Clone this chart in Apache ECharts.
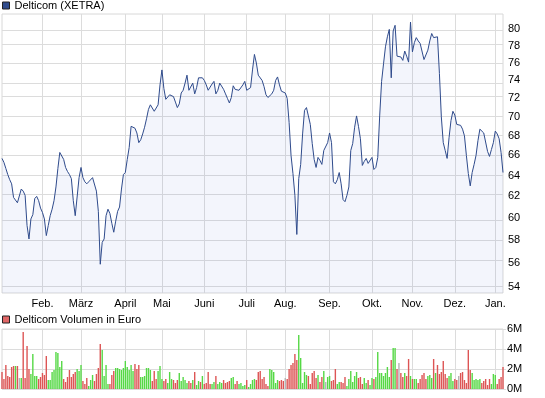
<!DOCTYPE html>
<html>
<head>
<meta charset="utf-8">
<script src="https://cdn.jsdelivr.net/npm/echarts@6/dist/echarts.min.js"></script>
<style>
html, body { margin: 0; padding: 0; background: #fff; }
#container1 { width: 545px; height: 398px; }
</style>
</head>
<body>
<div id="container1"></div>
<script>
// month labels and the trading day (index) where each month starts
var monthNames = ['Feb.', 'März', 'April', 'Mai', 'Juni', 'Juli', 'Aug.', 'Sep.', 'Okt.', 'Nov.', 'Dez.', 'Jan.'];
var monthStartDay = [21, 41, 64, 83, 105, 127, 147, 170, 192, 213, 235, 256];

// daily close, XETRA (EUR)
var closeXetra = [
    65.7, 65.3, 64.7, 64.1, 63.6, 63.2, 61.9, 62.0, 61.4, 61.4,
    62.7, 62.5, 62.1, 59.3, 58.1, 59.9, 60.3, 61.8, 62.0, 61.6,
    60.9, 60.5, 59.9, 58.4, 59.3, 60.2, 60.8, 61.6, 62.9, 64.7,
    66.3, 66.5, 65.6, 64.8, 64.4, 64.1, 63.7, 61.6, 60.2, 60.3,
    63.8, 64.8, 63.8, 63.4, 63.2, 63.4, 63.5, 63.8, 63.7, 62.5,
    60.6, 55.9, 57.8, 58.1, 60.2, 60.8, 60.4, 59.5, 58.7, 59.7,
    60.6, 61.0, 62.7, 64.1, 64.3, 65.6, 66.8, 69.0, 69.1, 68.8,
    68.3, 67.3, 67.6, 68.2, 68.9, 69.8, 70.8, 71.3, 71.1, 70.6,
    70.4, 71.3, 73.5, 75.2, 73.1, 71.9, 72.0, 72.4, 72.6, 72.2,
    71.6, 71.0, 71.4, 72.6, 72.9, 73.7, 74.6, 72.9, 72.8, 73.7,
    72.5, 73.2, 74.3, 74.1, 74.3, 74.0, 73.5, 72.9, 72.8, 73.6,
    73.9, 72.5, 72.9, 73.7, 73.9, 73.0, 72.5, 72.0, 71.5, 72.1,
    73.4, 73.0, 72.8, 72.9, 73.1, 73.5, 73.9, 72.9, 73.0, 73.2,
    75.2, 77.0, 76.0, 74.6, 74.4, 74.0, 73.3, 72.4, 72.1, 72.2,
    72.5, 72.9, 74.0, 74.4, 73.5, 72.8, 72.6, 72.6, 72.0, 69.4,
    66.0, 64.2, 62.1, 58.5, 63.7, 65.1, 68.2, 70.7, 71.0, 70.1,
    69.2, 67.2, 65.6, 64.8, 65.8, 65.5, 65.1, 66.5, 66.5, 67.3,
    68.3, 67.3, 63.4, 63.2, 63.6, 64.3, 63.2, 61.7, 61.5, 62.1,
    62.9, 66.5, 67.2, 68.9, 70.1, 69.0, 67.7, 65.0, 65.4, 65.7,
    65.2, 65.3, 65.8, 64.6, 64.8, 65.8, 70.1, 73.9, 75.9, 77.9,
    79.1, 80.0, 74.3, 79.8, 80.5, 76.8, 76.8, 76.7, 76.3, 77.4,
    76.8, 76.1, 80.9, 77.3, 78.4, 79.0, 78.6, 78.3, 78.2, 76.4,
    76.2, 77.5, 78.6, 79.5, 79.0, 79.2, 79.1, 74.8, 70.0, 67.3,
    66.5, 65.7, 67.8, 69.6, 70.6, 70.2, 69.2, 69.2, 69.1, 68.7,
    68.0, 66.0, 64.2, 63.0, 64.3, 65.1, 66.0, 67.5, 68.7, 68.5,
    68.3, 68.1, 66.4, 65.9, 66.6, 67.3, 68.5, 68.2, 67.7, 66.3, 64.3
];

// daily turnover in million euro
var volumeMio = [
    1.7, 1.0, 2.4, 1.3, 1.2, 2.2, 2.3, 2.3, 2.3, 1.1,
    1.1, 5.7, 1.1, 4.3, 2.0, 1.5, 3.5, 1.3, 1.3, 1.0,
    1.2, 1.6, 1.4, 3.3, 0.9, 0.9, 1.7, 1.9, 3.7, 3.6,
    2.2, 2.8, 1.0, 0.7, 1.2, 1.9, 1.2, 1.5, 1.7, 2.0,
    1.8, 2.4, 0.8, 0.5, 1.1, 0.3, 0.9, 1.4, 0.8, 1.5,
    2.1, 4.5, 3.9, 1.3, 2.4, 0.5, 0.5, 1.4, 1.8, 2.1,
    2.1, 2.0, 1.9, 2.1, 2.8, 2.2, 1.9, 2.4, 1.8, 2.5,
    2.0, 2.4, 1.2, 1.2, 1.3, 2.1, 2.1, 1.9, 0.8, 1.8,
    1.0, 1.8, 2.3, 1.0, 0.8, 1.0, 0.6, 1.7, 1.0, 0.9,
    0.6, 0.9, 1.6, 0.8, 1.2, 0.9, 0.6, 0.8, 0.6, 0.9,
    1.7, 0.4, 0.8, 0.7, 1.3, 0.5, 0.6, 1.7, 0.5, 0.5,
    0.7, 1.3, 0.5, 0.7, 0.6, 0.9, 0.6, 0.7, 0.8, 1.1,
    1.2, 0.5, 0.8, 0.5, 0.6, 0.3, 0.4, 0.9, 0.2, 0.5,
    0.9, 1.0, 0.9, 1.7, 1.8, 1.0, 1.2, 0.5, 0.3, 2.0,
    1.9, 1.7, 0.6, 0.9, 0.8, 0.9, 0.8, 1.1, 1.0, 2.0,
    2.4, 2.6, 3.5, 2.9, 5.4, 3.1, 0.6, 1.7, 1.4, 1.3,
    0.5, 1.6, 1.8, 1.1, 1.4, 0.7, 1.2, 1.8, 0.7, 1.2,
    1.3, 0.8, 0.9, 2.0, 0.5, 0.7, 0.7, 0.6, 1.2, 0.3,
    1.0, 1.8, 0.7, 1.3, 1.7, 1.1, 1.2, 0.5, 1.1, 0.6,
    0.9, 0.4, 1.1, 1.0, 1.2, 3.7, 1.6, 1.6, 1.3, 1.6,
    2.2, 1.2, 2.9, 4.1, 4.1, 2.0, 2.6, 1.6, 1.2, 1.6,
    1.3, 3.0, 1.3, 1.0, 1.0, 1.0, 0.6, 1.0, 1.4, 1.6,
    1.0, 1.3, 1.4, 1.1, 3.0, 1.6, 2.4, 1.5, 1.7, 2.8,
    1.5, 1.1, 1.3, 1.6, 0.8, 1.0, 0.9, 1.3, 1.6, 1.7,
    0.9, 0.6, 3.9, 1.9, 1.6, 0.9, 1.0, 0.9, 1.0, 0.6,
    0.8, 1.0, 0.4, 1.0, 0.5, 1.5, 1.4, 0.5, 1.0, 1.2, 2.2
];

var priceTicks = [54, 56, 58, 60, 62, 64, 66, 68, 70, 72, 74, 76, 78, 80];
var priceMin = 53.5, priceMax = 81.9;

var fontName = 'Liberation Sans';
var gridColor = '#dcdcdc';
var upColor = '#55d845', downColor = '#dd5555', flatColor = '#b4b4b4';

var days = closeXetra.map(function (v, i) { return String(i); });

// log scale: plot ln(price) and label ticks back in euro
var logClose = closeXetra.map(function (v) { return Math.log(v); });
var logTicks = priceTicks.map(function (v) { return Math.log(v); });

var volBars = volumeMio.map(function (v, i) {
    var c = downColor;
    if (i > 0) {
        if (closeXetra[i] > closeXetra[i - 1]) c = upColor;
        else if (closeXetra[i] === closeXetra[i - 1]) c = flatColor;
    }
    return { value: v, itemStyle: { color: c } };
});

function isMonthStart(index) {
    return monthStartDay.indexOf(index) >= 0;
}

var dom = document.getElementById('container1');
var myChart = echarts.init(dom, null, { renderer: 'canvas' });

var option = {
    animation: false,
    backgroundColor: '#fff',
    textStyle: { fontFamily: fontName },
    legend: [
        {
            left: 2, top: 0, padding: 0,
            icon: 'rect', itemWidth: 7, itemHeight: 7,
            selectedMode: false,
            textStyle: { fontSize: 11, color: '#000', fontFamily: fontName },
            data: [{ name: 'Delticom (XETRA)', itemStyle: { color: '#2f4b8c', borderColor: '#222', borderWidth: 1 } }]
        },
        {
            left: 2, top: 314, padding: 0,
            icon: 'rect', itemWidth: 7, itemHeight: 7,
            selectedMode: false,
            textStyle: { fontSize: 11, color: '#000', fontFamily: fontName },
            data: [{ name: 'Delticom Volumen in Euro', itemStyle: { color: '#e06666', borderColor: '#222', borderWidth: 1 } }]
        }
    ],
    grid: [
        { left: 2, right: 42, top: 14, height: 279, show: true, borderColor: '#d8d8d8', borderWidth: 1, backgroundColor: 'transparent' },
        { left: 2, right: 42, top: 329, height: 60, show: true, borderColor: '#d8d8d8', borderWidth: 1, backgroundColor: 'transparent' }
    ],
    xAxis: [
        {
            type: 'category', gridIndex: 0, data: days, boundaryGap: false,
            axisLine: { show: false }, axisTick: { show: false },
            axisLabel: {
                interval: function (index) { return isMonthStart(index); },
                formatter: function (value) {
                    var k = monthStartDay.indexOf(Number(value));
                    return k >= 0 ? monthNames[k] : '';
                },
                fontSize: 11, color: '#000', margin: 5, fontFamily: fontName
            },
            splitLine: {
                show: true,
                interval: function (index) { return isMonthStart(index); },
                lineStyle: { color: gridColor, width: 1 }
            }
        },
        {
            type: 'category', gridIndex: 1, data: days, boundaryGap: false,
            axisLine: { show: false }, axisTick: { show: false },
            axisLabel: { show: false },
            splitLine: {
                show: true,
                interval: function (index) { return isMonthStart(index); },
                lineStyle: { color: gridColor, width: 1 }
            }
        }
    ],
    yAxis: [
        {
            type: 'value', gridIndex: 0, position: 'right',
            min: Math.log(priceMin), max: Math.log(priceMax),
            axisLine: { show: false },
            axisTick: { show: false },
            axisLabel: {
                customValues: logTicks,
                formatter: function (v) { return String(Math.round(Math.exp(v))); },
                fontSize: 11, color: '#000', margin: 5, fontFamily: fontName
            },
            splitLine: { show: false }
        },
        {
            type: 'value', gridIndex: 1, position: 'right',
            min: 0, max: 6, interval: 2,
            axisLine: { show: false },
            axisTick: { show: true, length: 3, lineStyle: { color: gridColor } },
            axisLabel: {
                formatter: function (v) { return v + 'M'; },
                fontSize: 11, color: '#000', margin: 4, fontFamily: fontName
            },
            splitLine: { show: true, lineStyle: { color: gridColor, width: 1 } }
        }
    ],
    series: [
        {
            name: 'Delticom (XETRA)',
            type: 'line',
            xAxisIndex: 0, yAxisIndex: 0,
            z: 3,
            data: logClose,
            showSymbol: false,
            symbol: 'none',
            lineStyle: { color: '#2f4b8c', width: 1 },
            itemStyle: { color: '#2f4b8c' },
            areaStyle: { color: 'rgba(70, 100, 200, 0.09)', origin: 'start' },
            // horizontal price grid lines (log spaced), drawn beneath the series
            markLine: {
                z: 1,
                silent: true,
                animation: false,
                symbol: ['none', 'none'],
                label: { show: false },
                emphasis: { disabled: true },
                lineStyle: { color: gridColor, type: 'solid', width: 1 },
                data: logTicks.map(function (v) { return { yAxis: v }; })
            }
        },
        {
            name: 'Delticom Volumen in Euro',
            type: 'bar',
            xAxisIndex: 1, yAxisIndex: 1,
            data: volBars,
            barWidth: 1.4,
            itemStyle: { color: '#e06666' }
        }
    ]
};

if (option && typeof option === 'object') {
    myChart.setOption(option, true);
}
</script>
</body>
</html>
